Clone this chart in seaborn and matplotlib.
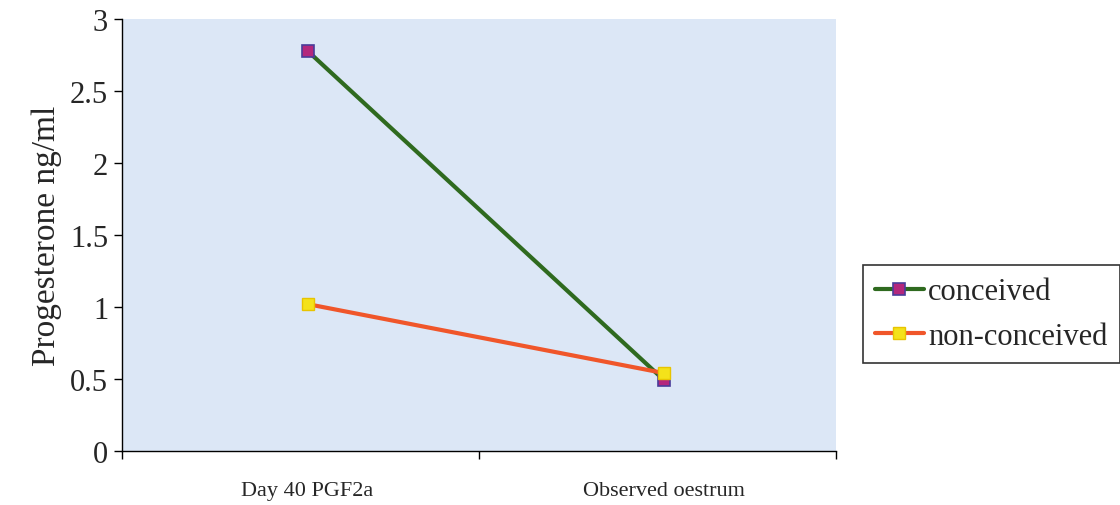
import pandas as pd
import numpy as np
import seaborn as sns
import matplotlib.pyplot as plt

stages = ["Day 40 PGF2a", "Observed oestrum"]
conceived = [2.78, 0.49]
non_conceived = [1.02, 0.54]

def plot_progesterone():
    sns.set_theme(style="white")
    plt.rcParams['font.family'] = ['Liberation Serif', 'DejaVu Serif']
    fig = plt.figure(figsize=(11.2, 5.06), dpi=100)
    ax = fig.add_axes([0.109, 0.107, 0.637, 0.853])
    ax.set_facecolor('#dce7f6')

    x = np.arange(len(stages))
    df_c = pd.DataFrame({'x': x, 'y': conceived})
    df_n = pd.DataFrame({'x': x, 'y': non_conceived})

    sns.lineplot(data=df_c, x='x', y='y', ax=ax, color='#2f6a1f', linewidth=3,
                 marker='s', markersize=8, markerfacecolor='#b3277c',
                 markeredgecolor='#4a3c9a', markeredgewidth=1.2, label='conceived')
    sns.lineplot(data=df_n, x='x', y='y', ax=ax, color='#f0562a', linewidth=3,
                 marker='s', markersize=8, markerfacecolor='#f4e21a',
                 markeredgecolor='#e8c400', markeredgewidth=1.0, label='non-conceived')

    ax.set_xlim(-0.52, 1.48)
    ax.set_ylim(0, 3)
    ax.set_yticks([0, 0.5, 1, 1.5, 2, 2.5, 3])
    ax.set_yticklabels(['0', '0.5', '1', '1.5', '2', '2.5', '3'], fontsize=22)
    ax.set_xticks(x)
    ax.set_xticklabels(stages, fontsize=16)
    ax.set_xticks([-0.52, 0.48, 1.48], minor=True)
    ax.tick_params(axis='x', which='major', length=0, pad=22)
    ax.tick_params(axis='x', which='minor', length=6, width=1, color='black', direction='out', bottom=True)
    ax.tick_params(axis='y', length=6, width=1, color='black', direction='out', left=True, pad=4)

    ax.set_xlabel('')
    ax.set_ylabel('Progesterone ng/ml', fontsize=24, labelpad=6)

    for s in ['top', 'right']:
        ax.spines[s].set_visible(False)
    for s in ['left', 'bottom']:
        ax.spines[s].set_color('black')
        ax.spines[s].set_linewidth(1)

    leg = ax.legend(loc='center left', bbox_to_anchor=(1.038, 0.317), fontsize=22,
                    frameon=True, fancybox=False, edgecolor='black',
                    handlelength=1.6, handletextpad=0.15, borderpad=0.4,
                    borderaxespad=0, labelspacing=0.5)
    leg.get_frame().set_linewidth(1.2)

    fig.savefig("out.png", dpi=100)

if __name__ == "__main__":
    plot_progesterone()
